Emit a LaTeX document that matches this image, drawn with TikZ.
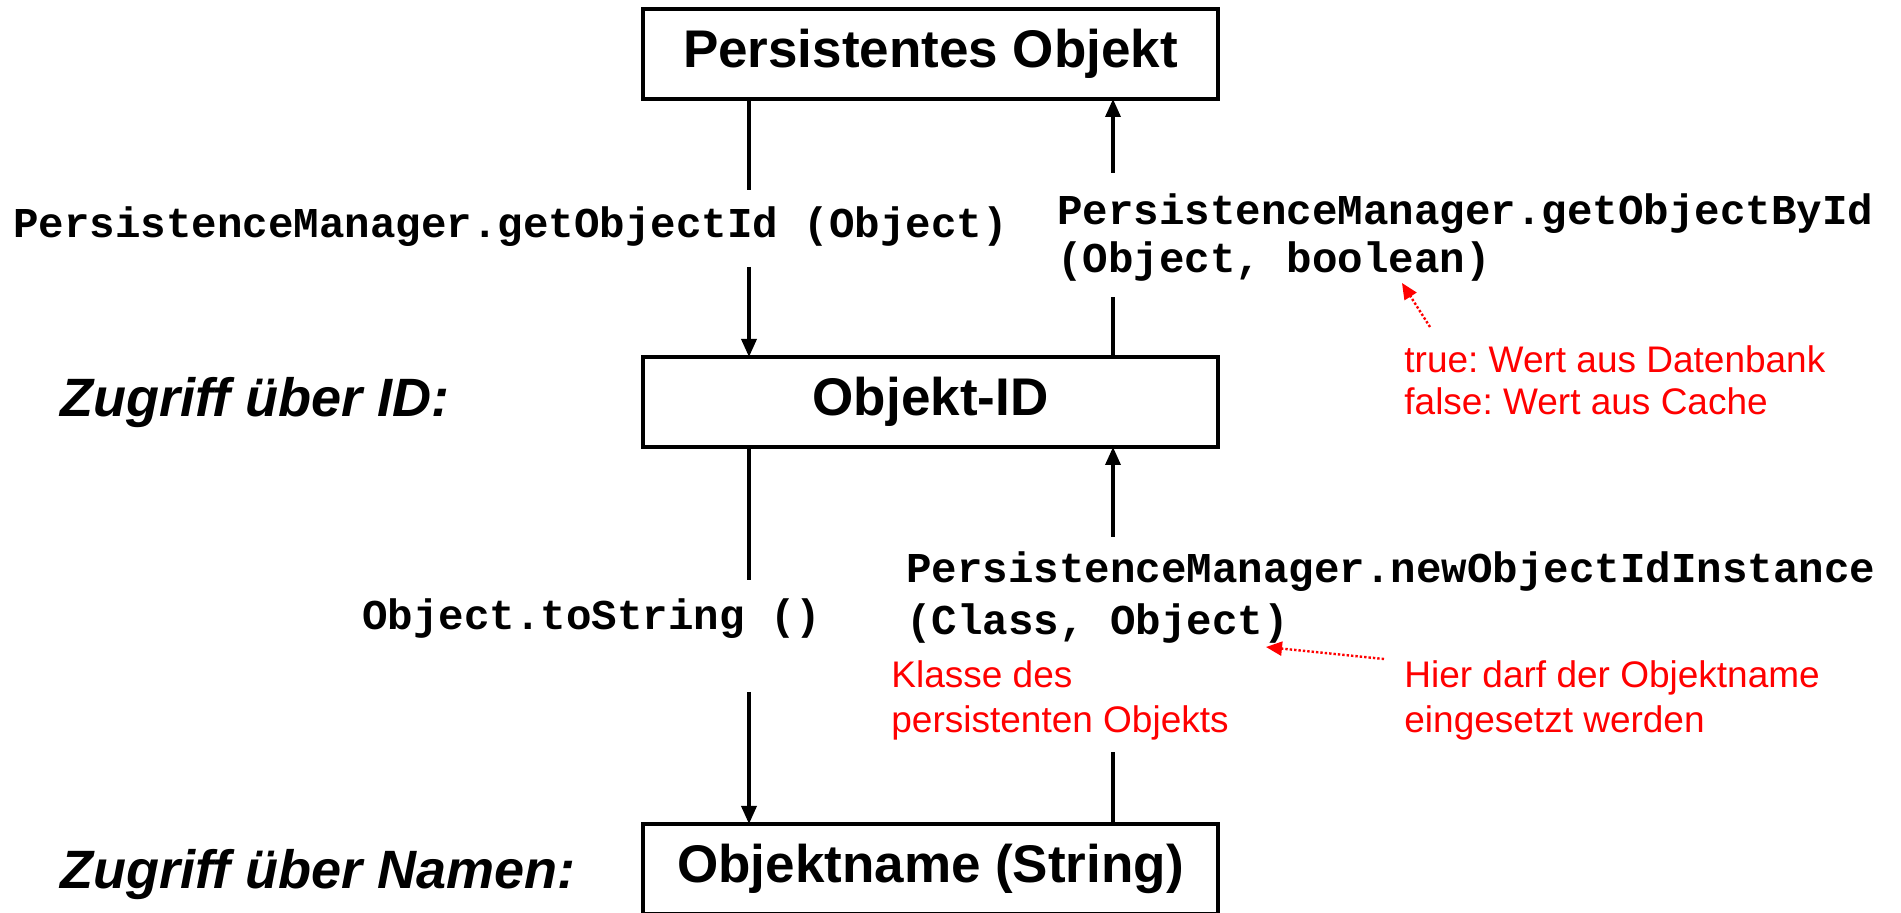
\documentclass[tikz,border=0pt]{standalone}
\usepackage{fontspec}
\setmainfont{Liberation Sans}
\newfontfamily\codefont{Liberation Mono}
\usetikzlibrary{positioning,arrows.meta}
\frenchspacing

\newcommand{\boxfont}{\fontsize{26.5pt}{30pt}\selectfont\bfseries}
\newcommand{\accessfont}{\fontsize{27pt}{30pt}\selectfont\bfseries\itshape}
\newcommand{\callfont}{\codefont\bfseries\fontsize{21.25pt}{24pt}\selectfont}
\newcommand{\hintfont}{\fontsize{18.5pt}{21pt}\selectfont}

\begin{document}
\begin{tikzpicture}[x=0.5pt,y=-0.5pt,
    objbox/.style={draw,line width=2pt,minimum width=287.5pt,minimum height=45pt,inner sep=0pt,outer sep=0pt,font=\boxfont},
    call/.style={anchor=base west,inner sep=0pt,align=left,font=\callfont},
    hint/.style={anchor=base west,inner sep=0pt,align=left,text=red,font=\hintfont},
    access/.style={anchor=base west,inner sep=0pt,font=\accessfont},
    flow/.style={line width=1.7pt},
    flowarrow/.style={flow,-{Triangle[length=9pt,width=7.5pt]}},
    note/.style={red,line width=1.2pt,densely dotted,-{Triangle[length=8pt,width=7pt]}}]
        \useasboundingbox (0,0) rectangle (1901,913);

        \node[objbox] (persist) at (930.5,54) {Persistentes Objekt};
        \node[objbox] (objid) [below=129pt of persist] {Objekt-ID};
        \node[objbox] (objname) [below=188.5pt of objid] {Objektname (String)};

        \node[access] (byid) at (60,417) {Zugriff über ID:};
        \node[access] (byname) at (60,888) {Zugriff über Namen:};

        \node[call] (getid) at (13,238) {PersistenceManager.getObjectId (Object)};
        \node[call] (getobj) at (1057,273) {PersistenceManager.getObjectById\\(Object, boolean)};
        \node[call] (tostr) at (362,630) {Object.toString ()};
        \node[call,font={\codefont\bfseries\fontsize{21.25pt}{26pt}\selectfont}] (newid) at (906,635) {PersistenceManager.newObjectIdInstance\\(Class, Object)};

        \node[hint] (cachenote) at (1404,415) {true: Wert aus Datenbank\\false: Wert aus Cache};
        \node[hint,font={\fontsize{18.5pt}{22.5pt}\selectfont}] (classnote) at (891,733) {Klasse des\\persistenten Objekts};
        \node[hint,font={\fontsize{18.5pt}{22.5pt}\selectfont}] (namenote) at (1404,733) {Hier darf der Objektname\\eingesetzt werden};

        \coordinate (la) at (749,190);
        \coordinate (lb) at (749,267);
        \coordinate (ra) at (1113,173);
        \coordinate (rb) at (1113,297);
        \coordinate (lc) at (749,580);
        \coordinate (ld) at (749,692);
        \coordinate (rc) at (1113,537);
        \coordinate (rd) at (1113,752);
        \coordinate (cachetail) at (1430,327);
        \coordinate (cachehead) at (1402,283);
        \coordinate (nametail) at (1384,659);
        \coordinate (namehead) at (1266,647);

        \draw[flow] (persist.south -| la) -- (la);
        \draw[flowarrow] (lb) -- (objid.north -| lb);
        \draw[flowarrow] (ra) -- (persist.south -| ra);
        \draw[flow] (objid.north -| rb) -- (rb);
        \draw[flow] (objid.south -| lc) -- (lc);
        \draw[flowarrow] (ld) -- (objname.north -| ld);
        \draw[flowarrow] (rc) -- (objid.south -| rc);
        \draw[flow] (objname.north -| rd) -- (rd);

        \draw[note] (cachetail) -- (cachehead);
        \draw[note] (nametail) -- (namehead);
    \end{tikzpicture}
\end{document}
